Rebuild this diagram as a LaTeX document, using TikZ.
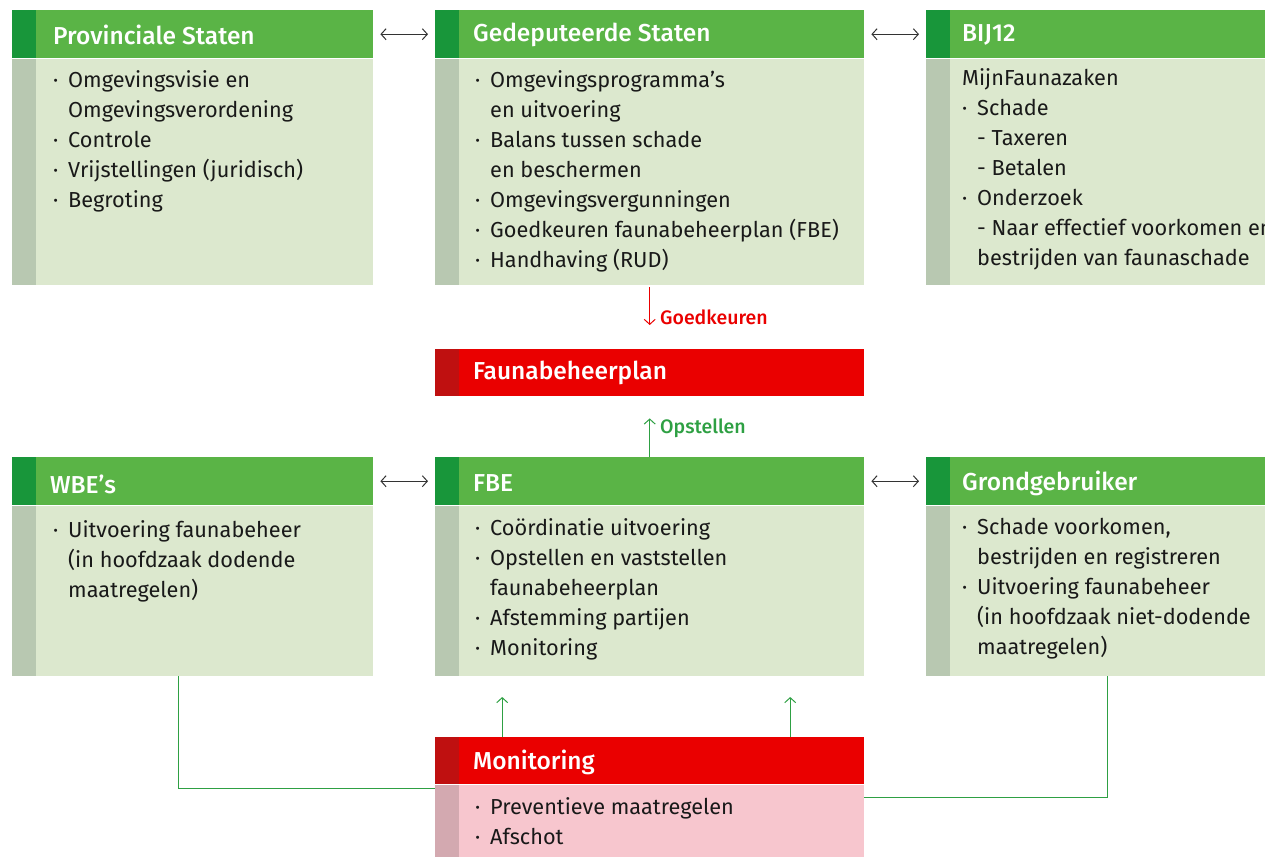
\documentclass[tikz,border=0pt]{standalone}
\usepackage{fontspec}
\setmainfont{Fira Sans}[BoldFont={Fira Sans Medium}]
\usepackage{tikz}
\usetikzlibrary{arrows.meta}

\definecolor{kopgroen}{HTML}{5AB446}
\definecolor{stripgroen}{HTML}{18963A}
\definecolor{vlakgroen}{HTML}{DCE8CE}
\definecolor{stripgrijs}{HTML}{B8C8B1}
\definecolor{koprood}{HTML}{EA0000}
\definecolor{striprood}{HTML}{BF1010}
\definecolor{vlakroze}{HTML}{F7C6CE}
\definecolor{stripkroze}{HTML}{D3A9B0}
\definecolor{lijngroen}{HTML}{2EA043}
\definecolor{pijlgrijs}{HTML}{333333}

\newcommand{\bul}{\makebox[15pt][l]{\textperiodcentered}}
\newcommand{\ind}{\hspace*{15pt}}

\begin{document}
\begin{tikzpicture}[x=1pt,y=-1pt,
	blok/.style 2 args={fill=#1, inner sep=0, anchor=north west,
		path picture={\fill[#2] (path picture bounding box.south west) rectangle ([xshift=24pt]path picture bounding box.north west);}},
	titel/.style={anchor=west, inner sep=0, text=white, font=\fontsize{24.5}{28}\selectfont\bfseries},
	tekst/.style={anchor=north west, inner sep=0, align=left, text=black!90, font=\fontsize{21.7}{30}\selectfont},
	dubbel/.style={draw=pijlgrijs, line width=1pt, {Straight Barb[length=5pt,width=11pt]}-{Straight Barb[length=5pt,width=11pt]}},
	rood/.style={draw=koprood, line width=1pt, -{Straight Barb[length=5pt,width=11pt]}},
	groen/.style={draw=lijngroen, line width=1pt, -{Straight Barb[length=5pt,width=11pt]}},
	label/.style={right=10pt, inner sep=0, font=\fontsize{19.5}{22}\selectfont\bfseries}]
	\useasboundingbox (0,0) rectangle (1265,857);

	% bovenste rij
	\node[blok={kopgroen}{stripgroen}, minimum width=361, minimum height=48] (ps) at (12,10) {};
	\node[blok={vlakgroen}{stripgrijs}, minimum width=361, minimum height=226] (psbody) at (12,59) {};
	\node[titel] (pstitel) at (53,35) {Provinciale Staten};
	\node[tekst] (pstekst) at (53,70) {\bul Omgevingsvisie en\\ \ind Omgevingsverordening\\ \bul Controle\\ \bul Vrijstellingen (juridisch)\\ \bul Begroting};

	\node[blok={kopgroen}{stripgroen}, minimum width=429, minimum height=48] (gs) at (435,10) {};
	\node[blok={vlakgroen}{stripgrijs}, minimum width=429, minimum height=226] (gsbody) at (435,59) {};
	\node[titel] (gstitel) at (473,35) {Gedeputeerde Staten};
	\node[tekst] (gstekst) at (475,70) {\bul Omgevingsprogramma’s\\ \ind en uitvoering\\ \bul Balans tussen schade\\ \ind en beschermen\\ \bul Omgevingsvergunningen\\ \bul Goedkeuren faunabeheerplan (FBE)\\ \bul Handhaving (RUD)};

	\node[blok={kopgroen}{stripgroen}, minimum width=339, minimum height=48] (bij) at (926,10) {};
	\node[blok={vlakgroen}{stripgrijs}, minimum width=339, minimum height=226] (bijbody) at (926,59) {};
	\node[titel] (bijtitel) at (962,35) {BIJ12};
	\begin{scope}
		\clip (926,59) rectangle (1265,285);
		\node[tekst] (bijtekst) at (962,68) {MijnFaunazaken\\ \bul Schade\\ \ind -\ Taxeren\\ \ind -\ Betalen\\ \bul Onderzoek\\ \ind -\ Naar effectief voorkomen en\\ \ind bestrijden van faunaschade};
	\end{scope}

	\draw[dubbel] ([xshift=7pt]ps.east) -- ([xshift=-7pt]gs.west);
	\draw[dubbel] ([xshift=7pt]gs.east) -- ([xshift=-7pt]bij.west);

	% faunabeheerplan
	\node[blok={koprood}{striprood}, minimum width=429, minimum height=47] (fbp) at (435,349) {};
	\node[titel] (fbptitel) at (473,373) {Faunabeheerplan};
	\draw[rood] ([yshift=-2pt]gsbody.south) -- ([yshift=24pt]fbp.north)
		node[label, pos=0.8, text=koprood] (goedk) {Goedkeuren};

	% onderste rij
	\node[blok={kopgroen}{stripgroen}, minimum width=361, minimum height=48] (wbe) at (12,457) {};
	\node[blok={vlakgroen}{stripgrijs}, minimum width=361, minimum height=170] (wbebody) at (12,506) {};
	\node[titel] (wbetitel) at (50,484) {WBE’s};
	\node[tekst] (wbetekst) at (53,520) {\bul Uitvoering faunabeheer\\ \ind(in hoofdzaak dodende\\ \ind maatregelen)};

	\node[blok={kopgroen}{stripgroen}, minimum width=429, minimum height=48] (fbe) at (435,457) {};
	\node[blok={vlakgroen}{stripgrijs}, minimum width=429, minimum height=170] (fbebody) at (435,506) {};
	\node[titel] (fbetitel) at (473,483) {FBE};
	\node[tekst] (fbetekst) at (475,518) {\bul Coördinatie uitvoering\\ \bul Opstellen en vaststellen\\ \ind faunabeheerplan\\ \bul Afstemming partijen\\ \bul Monitoring};

	\node[blok={kopgroen}{stripgroen}, minimum width=339, minimum height=48] (gg) at (926,457) {};
	\node[blok={vlakgroen}{stripgrijs}, minimum width=339, minimum height=170] (ggbody) at (926,506) {};
	\node[titel] (ggtitel) at (962,483) {Grondgebruiker};
	\node[tekst] (ggtekst) at (962,518) {\bul Schade voorkomen,\\ \ind bestrijden en registreren\\ \bul Uitvoering faunabeheer\\ \ind(in hoofdzaak niet-dodende\\ \ind maatregelen)};

	\draw[dubbel] ([xshift=7pt]wbe.east) -- ([xshift=-7pt]fbe.west);
	\draw[dubbel] ([xshift=7pt]fbe.east) -- ([xshift=-7pt]gg.west);
	\draw[groen] (fbe.north) -- ([yshift=-22pt]fbp.south)
		node[label, pos=0.74, text=lijngroen] (opst) {Opstellen};

	% monitoring
	\node[blok={koprood}{striprood}, minimum width=429, minimum height=47] (mon) at (435,737) {};
	\node[blok={vlakroze}{stripkroze}, minimum width=429, minimum height=72] (monbody) at (435,785) {};
	\node[titel] (montitel) at (473,762) {Monitoring};
	\node[tekst] (montekst) at (475,797) {\bul Preventieve maatregelen\\ \bul Afschot};

	\draw[groen] ([xshift=-147.5pt]mon.north) -- ++(0,-40);
	\draw[groen] ([xshift=140.5pt]mon.north) -- ++(0,-40);
	\draw[lijngroen, line width=1.2pt] ([xshift=-14.5pt]wbebody.south) |- ([yshift=33pt]monbody.west);
	\draw[lijngroen, line width=1.2pt] ([xshift=11.5pt]ggbody.south) |- ([yshift=24pt]monbody.east);
\end{tikzpicture}
\end{document}
